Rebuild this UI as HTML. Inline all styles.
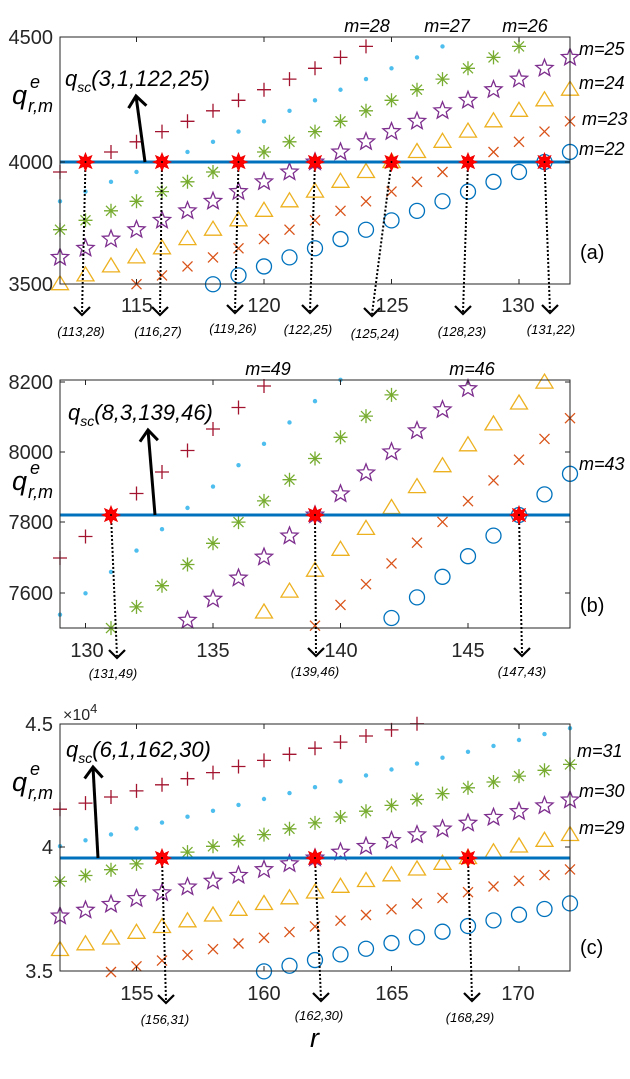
<!DOCTYPE html>
<html><head><meta charset="utf-8"><style>
html,body{margin:0;padding:0;background:#fff;}
svg{display:block;font-family:"Liberation Sans",Arial,sans-serif;}
.tk{font-size:20px;fill:#262626;}
.it{font-style:italic;fill:#000;}
</style></head><body>
<svg id="s" width="630" height="1079" viewBox="0 0 630 1079" xmlns="http://www.w3.org/2000/svg">
<rect width="630" height="1079" fill="#fff"/>
<g id="marks"></g>
<g class="tk" text-anchor="end">
<text x="53" y="44">4500</text><text x="53" y="169">4000</text><text x="53" y="291">3500</text>
<text x="53" y="389">8200</text><text x="53" y="459">8000</text><text x="53" y="529">7800</text><text x="53" y="600">7600</text>
<text x="53" y="731">4.5</text><text x="53" y="854">4</text><text x="53" y="978">3.5</text>
</g>
<g class="tk" text-anchor="middle">
<text x="137" y="312">115</text><text x="264" y="312">120</text><text x="392" y="312">125</text><text x="518" y="312">130</text>
<text x="87" y="657">130</text><text x="213" y="657">135</text><text x="341" y="657">140</text><text x="468" y="657">145</text>
<text x="137" y="1000">155</text><text x="264" y="1000">160</text><text x="392" y="1000">165</text><text x="518" y="1000">170</text>
</g>
<text x="63" y="720" style="font-size:16px;fill:#262626">×10<tspan dy="-7" font-size="13">4</tspan></text>
<g class="it" style="font-size:27px">
<text x="12" y="104">q</text><text x="12" y="490">q</text><text x="12" y="791">q</text>
</g>
<g class="it" style="font-size:18px">
<text x="30" y="88">e</text><text x="28" y="112">r,m</text>
<text x="30" y="474">e</text><text x="28" y="498">r,m</text>
<text x="30" y="775">e</text><text x="28" y="799">r,m</text>
</g>
<text x="310" y="1047" class="it" style="font-size:27px">r</text>
<g class="it" style="font-size:22px">
<text x="65" y="86">q<tspan font-size="14" dy="6">sc</tspan><tspan dy="-6">(3,1,122,25)</tspan></text>
<text x="68" y="420">q<tspan font-size="14" dy="6">sc</tspan><tspan dy="-6">(8,3,139,46)</tspan></text>
<text x="66" y="757">q<tspan font-size="14" dy="6">sc</tspan><tspan dy="-6">(6,1,162,30)</tspan></text>
</g>
<g style="font-size:20px;fill:#000">
<text x="580" y="259">(a)</text><text x="580" y="612">(b)</text><text x="580" y="954">(c)</text>
</g>
<g class="it" style="font-size:18px">
<text x="367" y="32" text-anchor="middle">m=28</text><text x="447" y="32" text-anchor="middle">m=27</text><text x="525" y="32" text-anchor="middle">m=26</text>
<text x="579" y="55">m=25</text><text x="579" y="89">m=24</text><text x="582" y="125">m=23</text><text x="579" y="155">m=22</text>
<text x="268" y="375" text-anchor="middle">m=49</text><text x="472" y="375" text-anchor="middle">m=46</text><text x="579" y="470">m=43</text>
<text x="577" y="757">m=31</text><text x="579" y="797">m=30</text><text x="579" y="834">m=29</text>
</g>
<g class="it" style="font-size:13px" text-anchor="middle">
<text x="81" y="336">(113,28)</text><text x="158" y="336">(116,27)</text><text x="233" y="333">(119,26)</text><text x="308" y="334">(122,25)</text><text x="375" y="338">(125,24)</text><text x="462" y="336">(128,23)</text><text x="551" y="334">(131,22)</text>
<text x="113" y="678">(131,49)</text><text x="315" y="676">(139,46)</text><text x="522" y="676">(147,43)</text>
<text x="165" y="1024">(156,31)</text><text x="319" y="1020">(162,30)</text><text x="470" y="1022">(168,29)</text>
</g>
</svg>
<script>
(function(){
var NS="http://www.w3.org/2000/svg",g=document.getElementById('marks');
function el(t,a){var e=document.createElementNS(NS,t);for(var k in a)e.setAttribute(k,a[k]);g.appendChild(e);return e;}
var cols=['#A2142F','#4DBEEE','#77AC30','#7E2F8E','#EDB120','#D95319','#0072BD'];
function star(n,R,r){var p=[];for(var i=0;i<2*n;i++){var a=-Math.PI/2+i*Math.PI/n,q=i%2?r:R;p.push((q*Math.cos(a)).toFixed(2)+','+(q*Math.sin(a)).toFixed(2));}return p.join(' ');}
function mk(k,x,y){var c=cols[k],s={stroke:c,'stroke-width':1.3,fill:'none'};
 var T='translate('+x.toFixed(1)+','+y.toFixed(1)+')';
 if(k==0){s.d='M-7,0H7M0,-7V7';s.transform=T;el('path',s);}
 else if(k==1){el('circle',{cx:x,cy:y,r:2.2,fill:c});}
 else if(k==2){s.d='M-7,0H7M0,-7V7M-5,-5L5,5M-5,5L5,-5';s.transform=T;el('path',s);}
 else if(k==3){s.points=star(5,9,3.9);s.transform=T;el('polygon',s);}
 else if(k==4){s.points='0,-8.5 8.5,5.5 -8.5,5.5';s.transform=T;el('polygon',s);}
 else if(k==5){s.d='M-5,-5L5,5M-5,5L5,-5';s.transform=T;el('path',s);}
 else {el('circle',{cx:x,cy:y,r:7.5,stroke:c,'stroke-width':1.3,fill:'none'});}
}
var P=[
 {rmin:112,rmax:132,top:37,bot:284,yl:162,ms:[28,27,26,25,24,23,22],r0:function(m){return 113+3*(28-m);},f:function(d,m){return 162-10*d-0.046*d*d;},hits:[28,27,26,25,24,23,22],
  xt:[115,120,125,130],yt:[37,162,284],
  arr:[[82,315],[160,315],[235,313],[310,313],[372,316],[463,314],[550,313]],big:[[145,162],[136,96]]},
 {rmin:129,rmax:149,top:380,bot:628,yl:515,ms:[49,48,47,46,45,44,43],r0:function(m){return 131+(49-m)*8/3;},f:function(d,m){return 515-(21.5-0.15*(49-m))*d;},hits:[49,46,43],
  xt:[130,135,140,145],yt:[382,452,522,593],
  arr:[[117,658],[316,656],[522,656]],big:[[155,515],[148,430]]},
 {rmin:152,rmax:172,top:724,bot:971,yl:858,ms:[33,32,31,30,29,28,27],r0:function(m){return 156+6*(31-m);},f:function(d,m){var s={33:6.1,32:5.9,31:5.85,30:5.8,29:5.75,28:5.7,27:5.67}[m];return 858-s*d;},hits:[31,30,29],
  xt:[155,160,165,170],yt:[724,847,971],
  arr:[[166,1003],[321,1001],[472,1001]],big:[[98,858],[93,767]]}
];
P.forEach(function(p){
 var X=function(r){return 60+(r-p.rmin)*510/(p.rmax-p.rmin);};
 p.ms.forEach(function(m,k){var r0=p.r0(m);for(var r=p.rmin;r<=p.rmax;r++){var y=p.f(r-r0,m);if(y>=p.top-1.5&&y<=p.bot+3)mk(k,X(r),y);}});
 el('line',{x1:60,x2:570,y1:p.yl,y2:p.yl,stroke:'#0072BD','stroke-width':3});
 el('rect',{x:60,y:p.top,width:510,height:p.bot-p.top,fill:'none',stroke:'#262626','stroke-width':1});
 p.xt.forEach(function(r){var x=X(r);el('path',{d:'M'+x+','+p.bot+'v-5M'+x+','+p.top+'v5',stroke:'#262626','stroke-width':1});});
 p.yt.forEach(function(y){el('path',{d:'M60,'+y+'h5M570,'+y+'h-5',stroke:'#262626','stroke-width':1});});
 p.hits.forEach(function(m,i){var x=X(p.r0(m)),a=p.arr[i];
  el('line',{x1:x,y1:p.yl,x2:a[0],y2:a[1]-2,stroke:'#000','stroke-width':2,'stroke-dasharray':'2,2'});
  el('path',{d:'M'+(a[0]-8)+','+(a[1]-8)+'L'+a[0]+','+a[1]+'L'+(a[0]+8)+','+(a[1]-8),stroke:'#000','stroke-width':2.2,fill:'none'});
  el('polygon',{points:star(8,9,4.8),transform:'translate('+x.toFixed(1)+','+p.yl+')',fill:'#FF0000',stroke:'#ee0000','stroke-width':0.8});
  el('circle',{cx:x,cy:p.yl,r:1,fill:'#000'});
 });
 var b=p.big;
 el('line',{x1:b[0][0],y1:b[0][1],x2:b[1][0],y2:b[1][1],stroke:'#000','stroke-width':3});
 var dx=b[1][0]-b[0][0],dy=b[1][1]-b[0][1],L=Math.sqrt(dx*dx+dy*dy),ux=dx/L,uy=dy/L;
 var px=-uy,py=ux,h=11,w=9;
 el('path',{d:'M'+(b[1][0]-ux*h+px*w)+','+(b[1][1]-uy*h+py*w)+'L'+b[1][0]+','+b[1][1]+'L'+(b[1][0]-ux*h-px*w)+','+(b[1][1]-uy*h-py*w),stroke:'#000','stroke-width':3,fill:'none'});
});
})();
</script>
</body></html>
